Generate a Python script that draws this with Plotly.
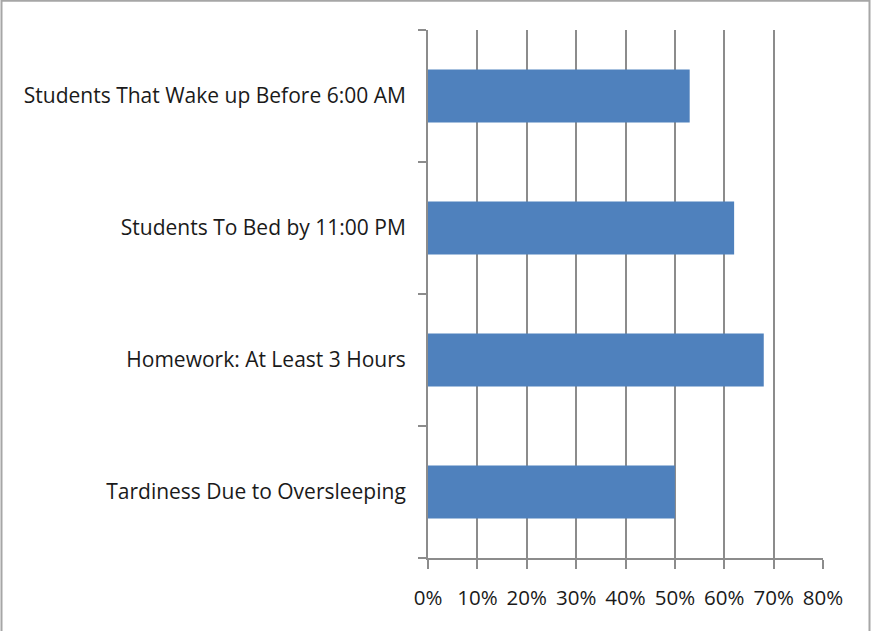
import plotly.graph_objects as go

# Survey results (share of students)
categories = [
    "Tardiness Due to Oversleeping",
    "Homework: At Least 3 Hours",
    "Students To Bed by 11:00 PM",
    "Students That Wake up Before 6:00 AM",
]
values = [0.50, 0.68, 0.62, 0.53]
x_ticks = [0, 0.1, 0.2, 0.3, 0.4, 0.5, 0.6, 0.7, 0.8]
x_tick_labels = ["0%", "10%", "20%", "30%", "40%", "50%", "60%", "70%", "80%"]

W, H = 871, 631
L, R, T, B = 428, 48, 30, 73

fig = go.Figure(
    go.Bar(
        x=values,
        y=categories,
        orientation="h",
        marker=dict(color="#4f81bd", line=dict(width=0)),
        hoverinfo="x+y",
    )
)

y_font = dict(family="'Open Sans', Lato, sans-serif", size=21, color="#1a1a1a")
x_font = dict(family="'Open Sans', Lato, sans-serif", size=20.5, color="#1a1a1a")

fig.update_layout(
    width=W,
    height=H,
    margin=dict(l=L, r=R, t=T, b=B, pad=0),
    paper_bgcolor="white",
    plot_bgcolor="white",
    bargap=0.6,
    showlegend=False,
    xaxis=dict(
        range=[0, 0.8],
        tickvals=x_ticks,
        ticktext=x_tick_labels,
        showgrid=True,
        gridcolor="#8c8c8c",
        gridwidth=2,
        zeroline=False,
        showline=True,
        linecolor="#8c8c8c",
        linewidth=2,
        ticks="outside",
        ticklen=9,
        tickwidth=2,
        tickcolor="#8c8c8c",
        ticklabelstandoff=11,
        tickfont=x_font,
        fixedrange=True,
    ),
    yaxis=dict(
        type="category",
        categoryorder="array",
        categoryarray=categories,
        range=[-0.5, len(categories) - 0.5],
        showgrid=False,
        zeroline=False,
        showline=True,
        linecolor="#8c8c8c",
        linewidth=2,
        ticks="outside",
        tickson="boundaries",
        ticklen=8,
        tickwidth=2,
        tickcolor="#8c8c8c",
        ticklabelstandoff=16,
        tickfont=y_font,
        fixedrange=True,
    ),
)

# Outer chart frame (left, top, right edges)
pw = W - L - R
ph = H - T - B
def px_x(p):
    return (p - L) / pw

def px_y(p):
    return 1 - (p - T) / ph

fig.add_shape(
    type="path",
    xref="paper",
    yref="paper",
    path=(
        f"M {px_x(1.5)} {px_y(H + 2)} L {px_x(1.5)} {px_y(0.8)} "
        f"L {px_x(W - 1.5)} {px_y(0.8)} L {px_x(W - 1.5)} {px_y(H + 2)}"
    ),
    line=dict(color="#a6a6a6", width=2),
    layer="above",
)

fig.write_html("out.html")
